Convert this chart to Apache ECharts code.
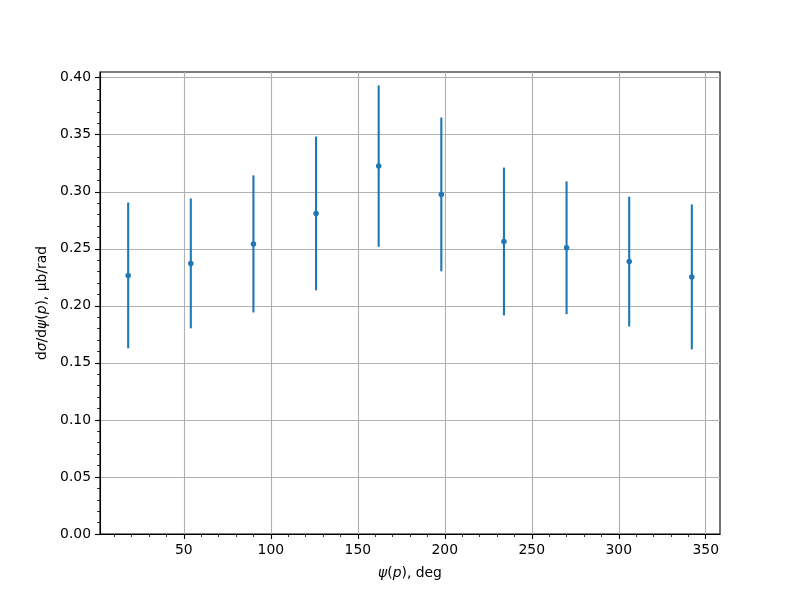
<!DOCTYPE html>
<html>
<head>
<meta charset="utf-8">
<script src="https://cdn.jsdelivr.net/npm/echarts@6/dist/echarts.min.js"></script>
<style>html,body{margin:0;padding:0;background:#fff;}#c{width:800px;height:600px;}</style>
</head>
<body>
<div id="c"></div>
<script>
// Data
const psiDeg = [18, 54, 90, 126, 162, 198, 234, 270, 306, 342];
const dSigma = [0.2267, 0.2372, 0.2543, 0.2810, 0.3225, 0.2977, 0.2564, 0.2509, 0.2388, 0.2254];
const dSigmaErr = [0.0639, 0.0569, 0.0601, 0.0674, 0.0707, 0.0674, 0.0648, 0.0582, 0.0569, 0.0635];
const xMajorTicks = [50, 100, 150, 200, 250, 300, 350];
const xMinorTicks = [10, 20, 30, 40, 60, 70, 80, 90, 110, 120, 130, 140, 160, 170, 180, 190, 210, 220, 230, 240, 260, 270, 280, 290, 310, 320, 330, 340];
const yMajorTicks = [0, 0.05, 0.10, 0.15, 0.20, 0.25, 0.30, 0.35, 0.40];
const yMinorTicks = [0.01, 0.02, 0.03, 0.04, 0.06, 0.07, 0.08, 0.09, 0.11, 0.12, 0.13, 0.14, 0.16, 0.17, 0.18, 0.19, 0.21, 0.22, 0.23, 0.24, 0.26, 0.27, 0.28, 0.29, 0.31, 0.32, 0.33, 0.34, 0.36, 0.37, 0.38, 0.39];

const X_MIN = 1.8, X_MAX = 358.2, Y_MIN = 0, Y_MAX = 0.405;
const BLUE = '#1f77b4';
const FONT = 'DejaVu Sans';
const FS = 13.9;

const points = psiDeg.map((x, i) => [x, dSigma[i], dSigmaErr[i]]);

const chart = echarts.init(document.getElementById('c'), null, {renderer: 'canvas'});
const itStyle = {fontStyle: 'italic', fontFamily: FONT, fontSize: FS, color: '#000'};
const upStyle = {fontFamily: FONT, fontSize: FS, color: '#000'};

chart.setOption({
  animation: false,
  backgroundColor: '#fff',
  grid: {left: 100, right: 80, top: 72, bottom: 66, show: true, borderColor: '#000', borderWidth: 1.1, backgroundColor: 'transparent'},
  xAxis: [{
    type: 'value', min: X_MIN, max: X_MAX, position: 'bottom',
    name: '{it|ψ}{up|(}{it|p}{up|), deg}',
    nameLocation: 'middle', nameGap: 32,
    nameTextStyle: {rich: {it: itStyle, up: upStyle}, fontFamily: FONT, fontSize: FS, color: '#000'},
    axisLine: {show: true, lineStyle: {color: '#000', width: 1.1}},
    axisTick: {show: true, length: 5, lineStyle: {color: '#000', width: 1.1}, customValues: xMajorTicks},
    axisLabel: {show: true, customValues: xMajorTicks, margin: 9, fontFamily: FONT, fontSize: FS, color: '#000', formatter: v => String(Math.round(v))},
    splitLine: {show: true, lineStyle: {color: '#b0b0b0', width: 1.1}}
  }, {
    type: 'value', min: X_MIN, max: X_MAX, position: 'bottom', gridIndex: 0,
    axisLine: {show: false},
    axisTick: {show: true, length: 3, lineStyle: {color: '#000', width: 0.8}, customValues: xMinorTicks},
    axisLabel: {show: false},
    splitLine: {show: false}
  }],
  yAxis: [{
    type: 'value', min: Y_MIN, max: Y_MAX, position: 'left',
    name: '{up|d}{it|σ}{up|/d}{it|ψ}{up|(}{it|p}{up|), μb/rad}',
    nameLocation: 'middle', nameGap: 48, nameRotate: 90,
    nameTextStyle: {rich: {it: itStyle, up: upStyle}, fontFamily: FONT, fontSize: FS, color: '#000'},
    axisLine: {show: true, lineStyle: {color: '#000', width: 1.1}},
    axisTick: {show: true, length: 5, lineStyle: {color: '#000', width: 1.1}, customValues: yMajorTicks},
    axisLabel: {show: true, customValues: yMajorTicks, margin: 9, fontFamily: FONT, fontSize: FS, color: '#000', formatter: v => v.toFixed(2)},
    splitLine: {show: true, lineStyle: {color: '#b0b0b0', width: 1.1}}
  }, {
    type: 'value', min: Y_MIN, max: Y_MAX, position: 'left', gridIndex: 0,
    axisLine: {show: false},
    axisTick: {show: true, length: 3, lineStyle: {color: '#000', width: 0.8}, customValues: yMinorTicks},
    axisLabel: {show: false},
    splitLine: {show: false}
  }],
  series: [{
    type: 'custom',
    xAxisIndex: 0, yAxisIndex: 0,
    data: points,
    renderItem: function (params, api) {
      const x = api.value(0), y = api.value(1), e = api.value(2);
      const lo = api.coord([x, y - e]);
      const hi = api.coord([x, y + e]);
      return {
        type: 'line',
        shape: {x1: lo[0], y1: lo[1], x2: hi[0], y2: hi[1]},
        style: {stroke: BLUE, lineWidth: 2.1}
      };
    },
    z: 2
  }, {
    type: 'scatter',
    xAxisIndex: 0, yAxisIndex: 0,
    data: points.map(p => [p[0], p[1]]),
    symbol: 'circle', symbolSize: 5.5,
    itemStyle: {color: BLUE, opacity: 1},
    z: 3
  }]
});
</script>
</body>
</html>
